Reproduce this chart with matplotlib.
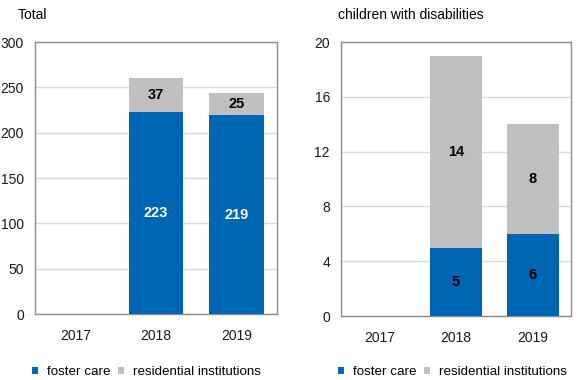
import matplotlib.pyplot as plt

plt.rcParams["font.family"] = ["Liberation Sans", "DejaVu Sans"]

years = ["2017", "2018", "2019"]

# Total
total_foster = [0, 223, 219]
total_resid = [0, 37, 25]

# children with disabilities
dis_foster = [0, 5, 6]
dis_resid = [0, 14, 8]

BLUE = "#0066b3"
GREY = "#bfbfbf"

fig = plt.figure(figsize=(5.8, 3.8), dpi=100)
ax1 = fig.add_axes([35 / 580, 1 - 314 / 380, 242 / 580, 272 / 380])
ax2 = fig.add_axes([341 / 580, 1 - 316 / 380, 230 / 580, 274 / 380])


def draw(ax, foster, resid, ymax, step, foster_label_color):
    x = range(len(years))
    b1 = ax.bar(x, foster, width=0.68, color=BLUE, zorder=3)
    b2 = ax.bar(x, resid, bottom=foster, width=0.68, color=GREY, zorder=3)
    for i, (f, r) in enumerate(zip(foster, resid)):
        if f:
            ax.text(i, f / 2, str(f), ha="center", va="center", fontsize=10.5,
                    fontweight="bold", color=foster_label_color, zorder=4)
        if r:
            ax.text(i, f + r / 2, str(r), ha="center", va="center", fontsize=10.5,
                    fontweight="bold", color="black", zorder=4)
    ax.set_xlim(-0.5, 2.5)
    ax.set_ylim(0, ymax)
    ax.set_yticks(range(0, ymax + 1, step))
    ax.set_xticks(list(x))
    ax.set_xticklabels(years)
    ax.yaxis.grid(True, color="#d9d9d9", linewidth=1, zorder=0)
    ax.tick_params(length=0, labelsize=10, colors="#1a1a1a")
    ax.tick_params(axis="y", pad=8)
    ax.tick_params(axis="x", pad=11)
    for s in ax.spines.values():
        s.set_color("#8c8c8c")
        s.set_linewidth(1)
    return b1, b2


h1 = draw(ax1, total_foster, total_resid, 300, 50, "white")
h2 = draw(ax2, dis_foster, dis_resid, 20, 4, "black")

fig.text(18 / 580, 1 - 15 / 380, "Total", fontsize=10, va="center", ha="left")
fig.text(338 / 580, 1 - 15 / 380, "children with disabilities", fontsize=10,
         va="center", ha="left")

for h, x0 in [(h1, 32 / 580), (h2, 338 / 580)]:
    fig.legend(h, ["foster care", "residential institutions"], loc="center left",
               bbox_to_anchor=(x0, 1 - 372 / 380), ncol=2, frameon=False,
               fontsize=9.6, handlelength=0.45, handleheight=0.45,
               handletextpad=0.65, columnspacing=0.6, borderpad=0,
               borderaxespad=0)

fig.savefig("out.png", dpi=100)
